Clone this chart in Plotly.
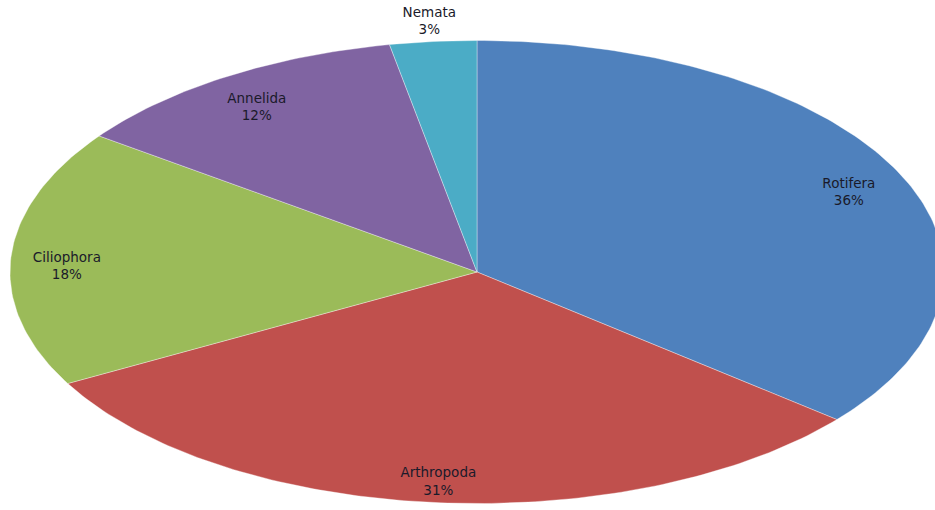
import math
import plotly.graph_objects as go

categories = ["Rotifera", "Arthropoda", "Ciliophora", "Annelida", "Nemata"]
values = [36, 31, 18, 12, 3]
colors = ["#4F81BD", "#C0504D", "#9BBB59", "#8064A2", "#4BACC6"]

# ellipse geometry (axis units == pixels)
RX, RY = 467, 231.5
total = sum(values)

fig = go.Figure()
label_x, label_y, label_t = [], [], []
start = 0.0
for name, v, c in zip(categories, values, colors):
    frac = v / total
    a0 = start * 2 * math.pi
    a1 = (start + frac) * 2 * math.pi
    n = max(8, int(frac * 400))
    xs, ys = [0.0], [0.0]
    for i in range(n + 1):
        t = a0 + (a1 - a0) * i / n
        xs.append(RX * math.sin(t))
        ys.append(RY * math.cos(t))
    xs.append(0.0)
    ys.append(0.0)
    fig.add_trace(go.Scatter(x=xs, y=ys, mode="lines", fill="toself",
                             fillcolor=c, line=dict(color="rgba(255,255,255,0.35)", width=1),
                             hoverinfo="text", text=name, showlegend=False))
    mid = (start + frac / 2) * 2 * math.pi
    if frac > 0.05:
        f, dy = 0.88, -8
    else:
        f, dy = 1.085, 0
    label_x.append(RX * f * math.sin(mid))
    label_y.append(RY * f * math.cos(mid) + dy)
    label_t.append(f"{name}<br>{round(frac * 100)}%")
    start += frac

fig.add_trace(go.Scatter(x=label_x, y=label_y, mode="text", text=label_t,
                         textposition="middle center", cliponaxis=False,
                         textfont=dict(family="DejaVu Sans", size=13.5, color="#1a1a2a"),
                         hoverinfo="skip", showlegend=False))

fig.update_layout(
    width=935, height=510,
    margin=dict(l=0, r=0, t=0, b=0),
    paper_bgcolor="white", plot_bgcolor="white",
    xaxis=dict(range=[-477, 458], visible=False, fixedrange=True),
    yaxis=dict(range=[-238, 272], visible=False, fixedrange=True),
)

fig.write_html("out.html", config={"displayModeBar": False},
               post_script="document.body.style.margin='0';")
